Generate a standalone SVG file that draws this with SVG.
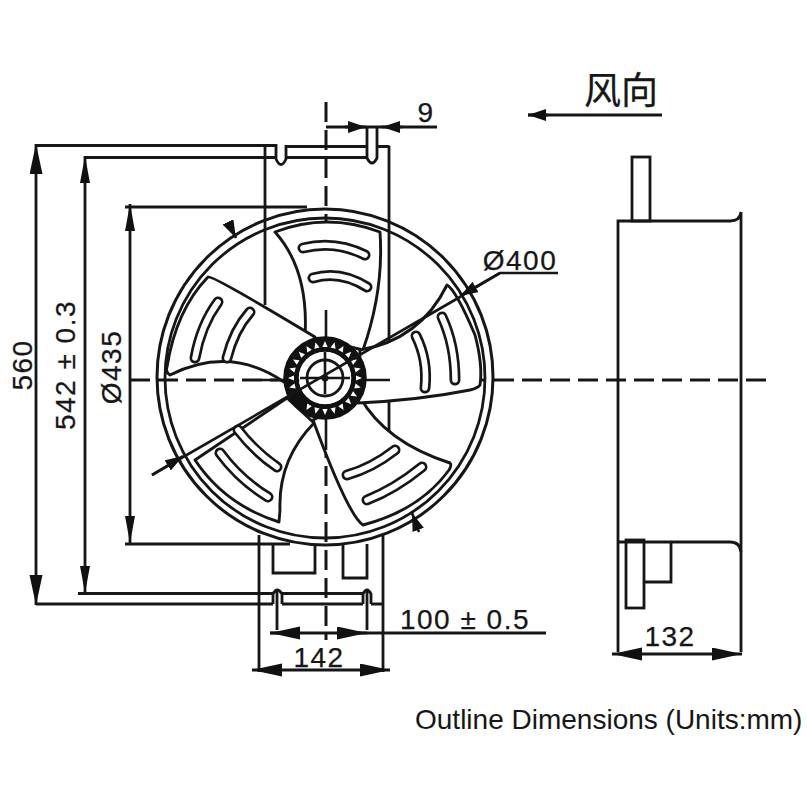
<svg xmlns="http://www.w3.org/2000/svg" width="807" height="807" viewBox="0 0 807 807">
<style>
text{font-family:"Liberation Sans",Arial,sans-serif;fill:#161616;stroke:#161616;stroke-width:.25}
.d{font-size:28px;letter-spacing:1.5px}
.l{fill:none;stroke:#161616;stroke-width:2.8}
.t{fill:none;stroke:#161616;stroke-width:2.6}
.c{fill:none;stroke:#161616;stroke-width:3;stroke-dasharray:20 8}
.b{fill:#fff;stroke:#161616;stroke-width:2.9;stroke-linejoin:round}
.so{fill:none;stroke:#161616;stroke-width:11;stroke-linecap:round}
.si{fill:none;stroke:#fff;stroke-width:5.6;stroke-linecap:round}
</style>
<defs>
<marker id="ar" markerUnits="userSpaceOnUse" markerWidth="32" markerHeight="14" refX="30" refY="6.5" orient="auto-start-reverse"><path d="M30 6.5L0 0L0 13Z" fill="#111"/></marker>
<marker id="an" markerUnits="userSpaceOnUse" markerWidth="30" markerHeight="11" refX="27" refY="5" orient="auto-start-reverse"><path d="M27 5L0 0L0 10Z" fill="#111"/></marker>
<marker id="as" markerUnits="userSpaceOnUse" markerWidth="20" markerHeight="14" refX="18" refY="6" orient="auto-start-reverse"><path d="M18 6L0 0L0 12Z" fill="#111"/></marker>
<polygon id="tooth" points="-2.6,-31 2.6,-31 0,-37" fill="#fff"/>
<path id="s1" d="M303 248Q335 240 365 255"/>
<path id="s2" d="M313 278Q340 270 367 287"/>
<path id="s3" d="M218 302Q201 325 195 358"/>
<path id="s4" d="M250 312Q234 330 227 358"/>
<path id="s5" d="M416 336Q428 360 425 388"/>
<path id="s6" d="M442 317Q455 345 455 380"/>
<path id="s7" d="M347 475Q372 468 395 450"/>
<path id="s8" d="M367 500Q395 489 422 467"/>
<path id="s9" d="M238 430Q255 452 277 467"/>
<path id="s10" d="M220 453Q240 480 268 497"/>
</defs>
<rect width="807" height="807" fill="#fff"/>
<g id="housing-lines">
<path class="l" d="M265 146V305M389 146V435"/>
<path class="l" d="M259 535V672M383 535V672"/>
<path class="l" d="M36 145.500H276V159Q281 170 286 159V146.500H367M377 146.500H389.500M84 157.500H276M286 157.500H367"/>
<path class="l" d="M367 127V158Q372 168 377 158V127"/>
<path class="l" d="M125 544H290M273 544V573H315V544M343 544V578H367V544"/>
<path class="l" d="M78 593.500H273M282 593.500H363M36 604H273M282 604H363M371 604H383"/>
<path class="l" d="M273 604V594Q277 586 282 594V604M363 604V594Q367 586 371 594V604M277 590V630M367 590V630"/>
</g>
<g id="centerlines">
<path class="c" d="M326 102V640"/>
<path class="c" d="M130 380H768"/>
</g>
<g id="fan">
<circle class="l" cx="325" cy="377" r="168" style="stroke-width:3"/>
<circle class="l" cx="325" cy="378" r="160"/>
<path class="b" d="M275 232Q327 212 380 232Q384 290 363 350L305 336Q309 270 275 232Z"/>
<path class="b" d="M208 277Q212 275 315 337L284 382Q230 345 170 375Q165 372 167 367Q176 310 208 277Z"/>
<path class="b" d="M195 460L287 398L314 423Q278 460 280 510L279 522Q225 505 195 460Z"/>
<path class="b" d="M363 525Q348 515 313 420L360 397Q385 442 450 463Q452 465 449 470Q420 510 363 525Z"/>
<path class="b" d="M447 285Q456 290 475 335Q483 365 480 385Q478 388 470 390Q420 400 358 403L360 350Q420 340 447 285Z"/>
<g class="so"><use href="#s1"/><use href="#s2"/><use href="#s3"/><use href="#s4"/><use href="#s5"/><use href="#s6"/><use href="#s7"/><use href="#s8"/><use href="#s9"/><use href="#s10"/></g>
<g class="si"><use href="#s1"/><use href="#s2"/><use href="#s3"/><use href="#s4"/><use href="#s5"/><use href="#s6"/><use href="#s7"/><use href="#s8"/><use href="#s9"/><use href="#s10"/></g>
<path class="t" d="M326 310V342M326 414V450M262 380H290M360 380H390"/>
</g>
<g id="hub" transform="translate(325 378)">
<circle r="34" fill="none" stroke="#111" stroke-width="15.500"/>
<circle r="26" fill="#fff"/>
<circle r="18" fill="#fff" stroke="#161616" stroke-width="2.800"/>
<g>
<use href="#tooth"/><use href="#tooth" transform="rotate(15)"/><use href="#tooth" transform="rotate(30)"/><use href="#tooth" transform="rotate(45)"/><use href="#tooth" transform="rotate(60)"/><use href="#tooth" transform="rotate(75)"/><use href="#tooth" transform="rotate(90)"/><use href="#tooth" transform="rotate(105)"/><use href="#tooth" transform="rotate(120)"/><use href="#tooth" transform="rotate(135)"/><use href="#tooth" transform="rotate(150)"/><use href="#tooth" transform="rotate(165)"/><use href="#tooth" transform="rotate(180)"/><use href="#tooth" transform="rotate(195)"/><use href="#tooth" transform="rotate(210)"/><use href="#tooth" transform="rotate(255)"/><use href="#tooth" transform="rotate(270)"/><use href="#tooth" transform="rotate(285)"/><use href="#tooth" transform="rotate(300)"/><use href="#tooth" transform="rotate(315)"/><use href="#tooth" transform="rotate(330)"/><use href="#tooth" transform="rotate(345)"/>
</g>
<path class="t" d="M0 -26V16M-25 0H25"/>
<circle r="3.5" fill="#161616"/>
</g>
<g id="connectors">
<path class="l" d="M36 144V605" marker-start="url(#ar)" marker-end="url(#ar)"/>
<path class="l" d="M85 156V593" marker-start="url(#an)" marker-end="url(#an)"/>
<path class="l" d="M130 204V543" marker-start="url(#an)" marker-end="url(#an)"/>
<path class="l" d="M125 207H307"/>
<path class="t" d="M152 475L460 297M460 297L500 273H558"/>
<path class="t" d="M152 475L183 456" marker-end="url(#as)"/>
<path class="t" d="M500 273L460 296" marker-end="url(#as)"/>
<path class="t" d="M229 224L236 238" marker-end="url(#as)"/>
<path class="t" d="M419 532L412 513" marker-end="url(#as)"/>
<path class="l" d="M326 127H437"/>
<path class="l" d="M345 127H366" marker-end="url(#as)"/>
<path class="l" d="M402 127H382" marker-end="url(#as)"/>
<path class="l" d="M270 633H546"/>
<path class="l" d="M300 633H270" marker-end="url(#ar)"/>
<path class="l" d="M340 633H367" marker-end="url(#ar)"/>
<path class="l" d="M252 670H390" marker-start="url(#ar)" marker-end="url(#ar)"/>
<path class="l" d="M612 654H742" marker-start="url(#ar)" marker-end="url(#ar)"/>
<path class="l" d="M662 115H528"/>
<path class="l" d="M548 115H528" marker-end="url(#as)"/>
</g>
<g id="side-view">
<path class="l" d="M618 652V221H730Q740 221 741 212V652"/>
<path class="l" d="M618 542H730Q740 542 741 552"/>
<rect class="l" x="632" y="157" width="18" height="64"/>
<rect class="l" x="626" y="540" width="18" height="68"/>
<path class="l" d="M644 582H671V543"/>
</g>
<g id="labels">
<text x="0" y="0" class="d" text-anchor="middle" transform="translate(32 365) rotate(-90)">560</text>
<text x="0" y="0" class="d" text-anchor="middle" transform="translate(75 365) rotate(-90)">542 ± 0.3</text>
<text x="0" y="0" class="d" text-anchor="middle" transform="translate(121 367) rotate(-90)">Ø435</text>
<text x="520" y="270" class="d" text-anchor="middle">Ø400</text>
<text x="426" y="122" class="d" text-anchor="middle">9</text>
<text x="465" y="629" class="d" text-anchor="middle">100 ± 0.5</text>
<text x="319" y="667" class="d" text-anchor="middle">142</text>
<text x="670" y="646" class="d" text-anchor="middle">132</text>
<text x="621" y="104" font-size="37" text-anchor="middle" style="font-family:'Noto Sans CJK SC','Liberation Sans',sans-serif">风向</text>
<text x="415" y="729" font-size="28" style="stroke-width:0">Outline Dimensions (Units:mm)</text>
</g>
</svg>
